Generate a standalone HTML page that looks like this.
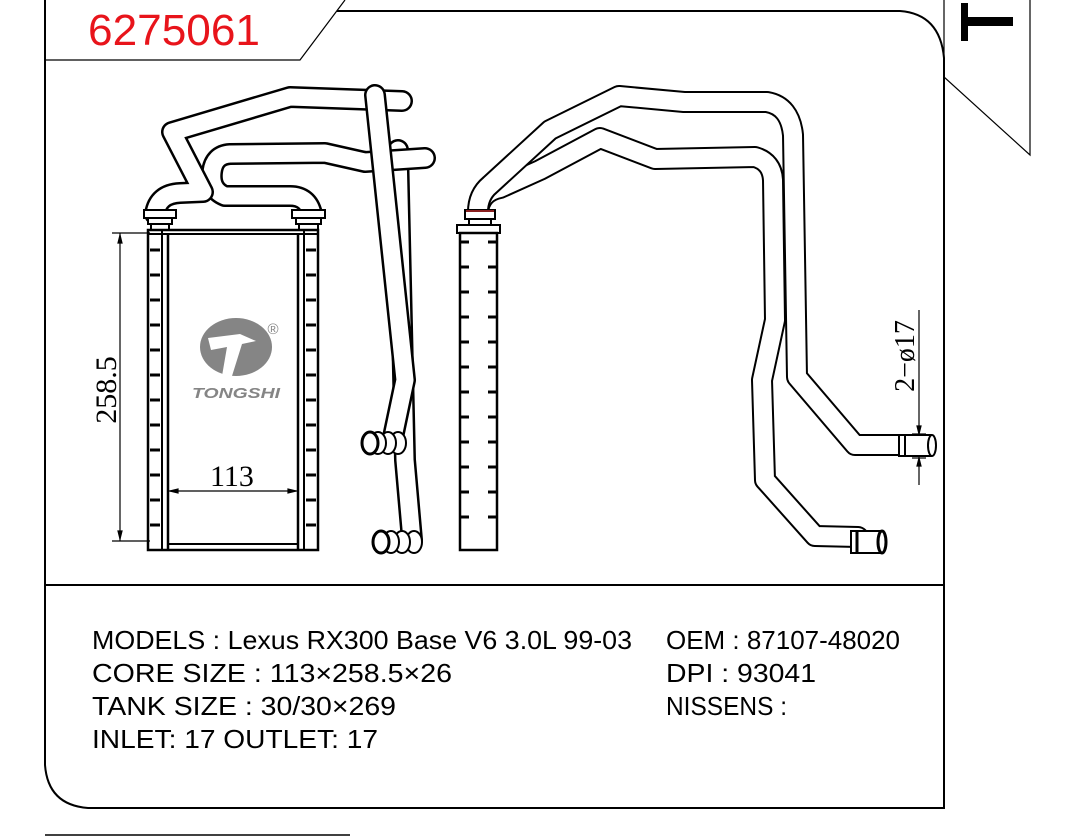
<!DOCTYPE html>
<html><head><meta charset="utf-8"><style>
html,body{margin:0;padding:0;background:#fff;}
svg{display:block;}
</style></head><body>
<svg width="1071" height="837" viewBox="0 0 1071 837" xmlns="http://www.w3.org/2000/svg">
<rect width="1071" height="837" fill="#fff"/>
<g fill="none" stroke="#000">
<path d="M45,0 L45,765 Q48,805 88,808 L944,808 L944,58 Q940,14 900,11 L337,11" stroke-width="2"/>
<path d="M45,60 L300,60 L345,0" stroke-width="1.2"/>
<line x1="45" y1="585" x2="944" y2="585" stroke-width="2"/>
<path d="M944,0 L944,77 L1030,155 L1030,0" stroke-width="1.2"/>
<line x1="45" y1="835" x2="350" y2="835" stroke-width="1.5"/>
</g>
<rect x="961" y="3" width="7" height="38" fill="#000"/>
<rect x="961" y="17" width="52" height="9" fill="#000"/>
<text x="88" y="45" font-family="Liberation Sans, sans-serif" font-size="44" fill="#e8141b" textLength="172" lengthAdjust="spacingAndGlyphs">6275061</text>

<g fill="none" stroke-linecap="round" stroke-linejoin="round">
 <path d="M398,150 L405,460 L412,540" stroke="#000" stroke-width="22"/>
 <path d="M398,150 L405,460 L412,540" stroke="#fff" stroke-width="17"/>
 <path d="M312,214 Q308,196 290,196 L225,196 Q210,190 212,172 Q214,155 230,154 L325,153 L365,162 L425,158" stroke="#000" stroke-width="22"/>
 <path d="M312,214 Q308,196 290,196 L225,196 Q210,190 212,172 Q214,155 230,154 L325,153 L365,162 L425,158" stroke="#fff" stroke-width="17"/>
 <path d="M155,214 Q158,194 180,193 L203,192 L172,132 L290,97 L402,101" stroke="#000" stroke-width="22"/>
 <path d="M155,214 Q158,194 180,193 L203,192 L172,132 L290,97 L402,101" stroke="#fff" stroke-width="17"/>
 <path d="M375,95 L405,380 L392,442" stroke="#000" stroke-width="22"/>
 <path d="M375,95 L405,380 L392,442" stroke="#fff" stroke-width="17"/>
</g>
<g fill="#fff" stroke="#000" stroke-width="2">
 <rect x="144" y="210" width="32" height="8"/><rect x="148" y="218" width="24" height="6"/><rect x="151" y="224" width="18" height="6"/>
 <rect x="292" y="210" width="33" height="8"/><rect x="296" y="218" width="25" height="6"/><rect x="299" y="224" width="19" height="6"/>
 <ellipse cx="398" cy="443" rx="8" ry="11"/><ellipse cx="388" cy="443" rx="8" ry="11"/><ellipse cx="378" cy="443" rx="8" ry="11"/><ellipse cx="370" cy="443" rx="8" ry="11" stroke-width="3"/>
 <ellipse cx="414" cy="542" rx="8" ry="11"/><ellipse cx="402" cy="542" rx="8" ry="11"/><ellipse cx="391" cy="542" rx="8" ry="11"/><ellipse cx="381" cy="542" rx="8" ry="11" stroke-width="3"/>
</g>
<g fill="none" stroke="#000" stroke-width="2">
 <rect x="148" y="230" width="170" height="320" stroke-width="2.5"/>
 <line x1="148" y1="234" x2="318" y2="234"/>
 <line x1="162" y1="230" x2="162" y2="550"/>
 <line x1="168" y1="234" x2="168" y2="550" stroke-width="2.5"/>
 <line x1="298" y1="234" x2="298" y2="550" stroke-width="2.5"/>
 <line x1="304" y1="230" x2="304" y2="550"/>
 <line x1="168" y1="544" x2="298" y2="544"/>
</g>
<g stroke="#000" stroke-width="3">
 <path d="M150,250h10M150,275h10M150,300h10M150,325h10M150,350h10M150,375h10M150,400h10M150,425h10M150,450h10M150,475h10M150,500h10M150,525h10"/>
 <path d="M306,250h10M306,275h10M306,300h10M306,325h10M306,350h10M306,375h10M306,400h10M306,425h10M306,450h10M306,475h10M306,500h10M306,525h10"/>
</g>
<g stroke="#000" stroke-width="1.2" fill="#000">
 <line x1="112" y1="233" x2="150" y2="233"/><line x1="112" y1="541" x2="150" y2="541"/>
 <line x1="120" y1="233" x2="120" y2="541"/>
 <path d="M120,235 l-2,8 h4z M120,539 l-2,-8 h4z"/>
 <line x1="168" y1="491" x2="298" y2="491"/>
 <path d="M170,491 l8,-2 v4z M296,491 l-8,-2 v4z"/>
 <line x1="919" y1="310" x2="919" y2="485"/>
 <path d="M919,434 l-2,-8 h4z M919,458 l-2,8 h4z"/>
 <line x1="912" y1="434" x2="926" y2="434"/><line x1="912" y1="458" x2="926" y2="458"/>
</g>
<text x="0" y="0" transform="translate(116,390) rotate(-90)" text-anchor="middle" font-family="Liberation Serif, serif" font-size="30" fill="#000">258.5</text>
<text x="232" y="486" text-anchor="middle" font-family="Liberation Serif, serif" font-size="30" fill="#000">113</text>
<text x="0" y="0" transform="translate(914,356) rotate(-90)" text-anchor="middle" font-family="Liberation Serif, serif" font-size="28" fill="#000">2−ø17</text>
<g fill="#858585">
 <ellipse cx="236" cy="347" rx="36" ry="29"/>
 <path d="M208,338 L240,334 L256,341 L242,344 L232,376 L222,376 L227,347 L211,350z" fill="#fff"/>
 <text x="236" y="398" text-anchor="middle" font-family="Liberation Sans, sans-serif" font-size="15" font-weight="bold" font-style="italic" textLength="88" lengthAdjust="spacingAndGlyphs">TONGSHI</text>
 <text x="273" y="334" text-anchor="middle" font-family="Liberation Sans, sans-serif" font-size="15">®</text>
</g>

<g fill="none" stroke-linecap="round" stroke-linejoin="round">
 <path d="M478,212 Q480,192 500,188 L540,170 L600,138 L655,159 L755,157 Q772,162 773,180 L775,320 L762,380 L765,480 L815,536 L858,537" stroke="#000" stroke-width="22"/>
 <path d="M478,212 Q480,192 500,188 L540,170 L600,138 L655,159 L755,157 Q772,162 773,180 L775,320 L762,380 L765,480 L815,536 L858,537" stroke="#fff" stroke-width="18"/>
 <path d="M478,212 Q478,195 490,185 L550,130 L619,96 L684,102 L767,102 Q790,106 793,135 L797,377 L855,445 L905,445" stroke="#000" stroke-width="22"/>
 <path d="M478,212 Q478,195 490,185 L550,130 L619,96 L684,102 L767,102 Q790,106 793,135 L797,377 L855,445 L905,445" stroke="#fff" stroke-width="18"/>
</g>
<g fill="#fff" stroke="#000" stroke-width="2">
 <rect x="899" y="435" width="32" height="21"/><line x1="905" y1="435" x2="905" y2="456"/>
 <ellipse cx="932" cy="445.5" rx="4" ry="10.5"/>
 <rect x="851" y="531" width="30" height="22"/><line x1="857" y1="531" x2="857" y2="553" stroke-width="3"/>
 <ellipse cx="882" cy="542" rx="4" ry="11" stroke-width="3"/>
 <rect x="465" y="210" width="30" height="9"/><rect x="469" y="219" width="22" height="7"/>
 <rect x="457" y="225" width="43" height="8"/>
 <rect x="460" y="233" width="37" height="317" stroke-width="2.5"/>
</g>
<line x1="466" y1="211" x2="494" y2="211" stroke="#8a2020" stroke-width="2"/>
<g stroke="#000" stroke-width="3">
 <path d="M461,242h8M461,267h8M461,292h8M461,317h8M461,342h8M461,367h8M461,392h8M461,417h8M461,442h8M461,467h8M461,492h8M461,517h8"/>
 <path d="M488,242h8M488,267h8M488,292h8M488,317h8M488,342h8M488,367h8M488,392h8M488,417h8M488,442h8M488,467h8M488,492h8M488,517h8"/>
</g>

<g font-family="Liberation Sans, sans-serif" font-size="26" fill="#000">
 <text x="92" y="649" textLength="540" lengthAdjust="spacingAndGlyphs">MODELS : Lexus RX300 Base V6 3.0L 99-03</text>
 <text x="92" y="682" textLength="360" lengthAdjust="spacingAndGlyphs">CORE SIZE : 113×258.5×26</text>
 <text x="92" y="715" textLength="304" lengthAdjust="spacingAndGlyphs">TANK SIZE : 30/30×269</text>
 <text x="92" y="748" textLength="286" lengthAdjust="spacingAndGlyphs">INLET: 17  OUTLET: 17</text>
 <text x="666" y="649" textLength="234" lengthAdjust="spacingAndGlyphs">OEM : 87107-48020</text>
 <text x="666" y="682" textLength="150" lengthAdjust="spacingAndGlyphs">DPI : 93041</text>
 <text x="666" y="715" textLength="121" lengthAdjust="spacingAndGlyphs">NISSENS :</text>
</g>
</svg>
</body></html>
